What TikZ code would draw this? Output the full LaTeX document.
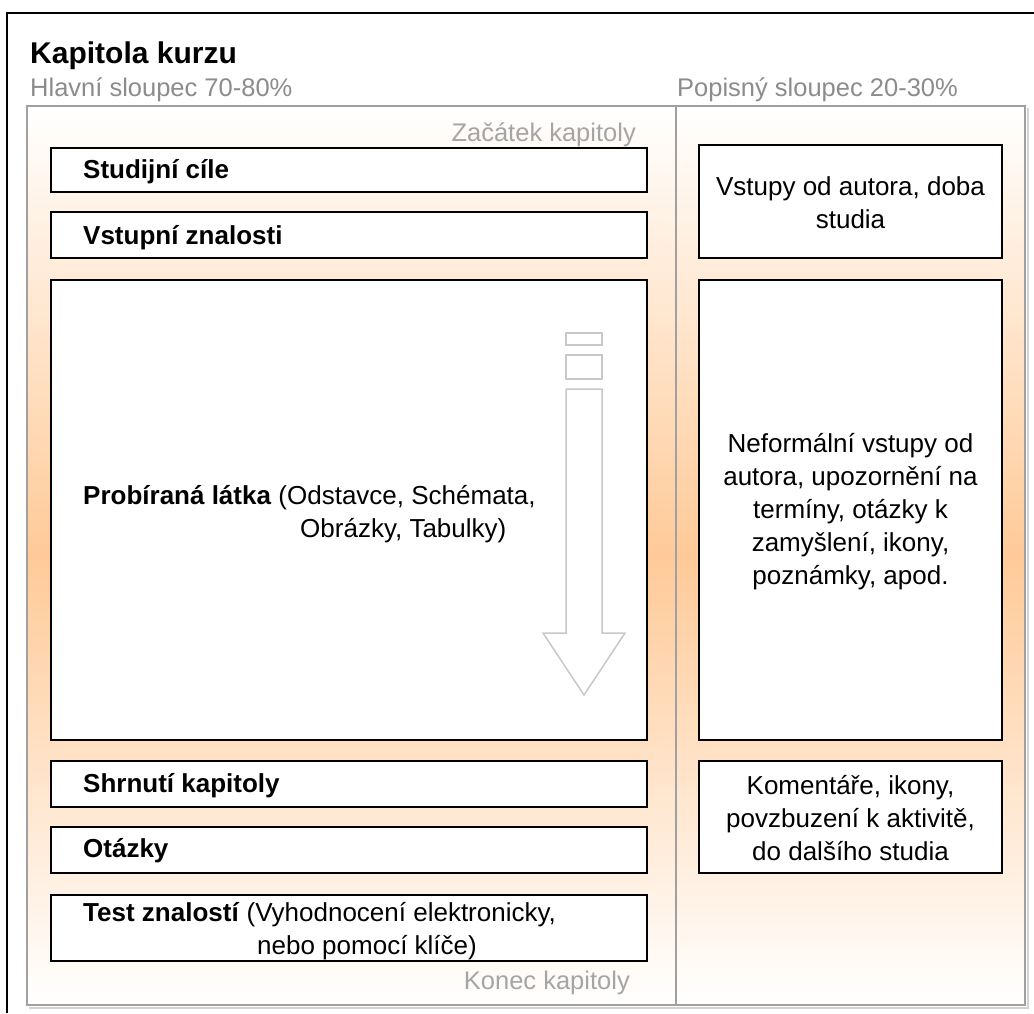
\documentclass[tikz,border=0pt]{standalone}
\usepackage{fontspec}
\setmainfont{Liberation Sans}
\definecolor{orng}{RGB}{255,202,152}
\definecolor{framegray}{RGB}{160,160,160}
\definecolor{shadowgray}{RGB}{210,210,210}
\definecolor{labelgray}{RGB}{140,140,140}
\definecolor{markgray}{RGB}{165,165,165}
\definecolor{arrowgray}{RGB}{200,200,200}
\tikzset{
  boxnode/.style={draw=black, line width=1.8pt, fill=white, inner sep=0pt, minimum width=#1},
  boxnode/.default=596pt,
  lbl/.style={font=\fontsize{25.5}{30}\selectfont, text=labelgray, inner sep=0pt, anchor=base west},
  endlbl/.style={font=\fontsize{25.5}{30}\selectfont, text=markgray, inner sep=0pt, anchor=base east},
  txt/.style={font=\fontsize{26}{33}\selectfont, inner sep=0pt, anchor=base west},
  btxt/.style={font=\fontsize{26}{33}\selectfont\bfseries, inner sep=0pt, anchor=base west},
  ctxt/.style={font=\fontsize{26}{33}\selectfont, inner sep=0pt, anchor=base},
}
\begin{document}
\begin{tikzpicture}[x=1pt,y=-1pt]
\useasboundingbox[fill=white] (0,0) rectangle (1034,1013);
% outer black frame (runs off the picture at right and bottom)
\draw[line width=2pt] (7,1013) -- (7,13) -- (1034,13);
% column frame with gradient
\shade[top color=white, bottom color=white, middle color=orng] (27,106) rectangle (1025,1005);
\draw[shadowgray, line width=2pt] (29,1007.5) -- (1027.5,1007.5) -- (1027.5,108);
\draw[framegray, line width=2pt] (27,106) rectangle (1025,1005);
\draw[framegray, line width=2pt] (676,106) -- (676,1005);
% headings
\node[font=\fontsize{30}{34}\selectfont\bfseries, inner sep=0pt, anchor=base west] (title) at (30,63) {Kapitola kurzu};
\node[lbl] (hlavni) at (30,96) {Hlavní sloupec 70-80\%};
\node[lbl] (popisny) at (677,96) {Popisný sloupec 20-30\%};
\node[endlbl] (zacatek) at (636,141) {Začátek kapitoly};
\node[endlbl] (konec) at (630,989) {Konec kapitoly};
% left column boxes
\node[boxnode, minimum height=44pt] (b1) at (349,170) {};
\node[boxnode, minimum height=46pt] (b2) at (349,235) {};
\node[boxnode, minimum height=460pt] (b3) at (349,510) {};
\node[boxnode, minimum height=46pt] (b4) at (349,784) {};
\node[boxnode, minimum height=46pt] (b5) at (349,850) {};
\node[boxnode, minimum height=66pt] (b6) at (349,928) {};
% right column boxes
\node[boxnode=303pt, minimum height=113pt] (r1) at (850.5,201.5) {};
\node[boxnode=303pt, minimum height=460pt] (r2) at (850.5,510) {};
\node[boxnode=303pt, minimum height=112pt] (r3) at (850.5,817) {};
% arrow inside the main box
\draw[arrowgray, line width=1.5pt] (566,333) rectangle (602,345);
\draw[arrowgray, line width=1.5pt] (566,355) rectangle (602,379);
\draw[arrowgray, line width=1.5pt, line join=miter] (566,389) -- (602,389) -- (602,633) -- (625,633) -- (584,695) -- (543,633) -- (566,633) -- cycle;
% left texts
\node[btxt] (t1) at (83,178) {Studijní cíle};
\node[btxt] (t2) at (83,244) {Vstupní znalosti};
\node[txt] (t3a) at (83,504) {\textbf{Probíraná látka} (Odstavce, Schémata,};
\node[txt] (t3b) at (300,537) {Obrázky, Tabulky)};
\node[btxt] (t4) at (83,792) {Shrnutí kapitoly};
\node[btxt] (t5) at (83,857) {Otázky};
\node[txt] (t6a) at (83,921) {\textbf{Test znalostí} (Vyhodnocení elektronicky,};
\node[txt] (t6b) at (257,954) {nebo pomocí klíče)};
% right texts
\node[ctxt] (s1a) at (850.5,195) {Vstupy od autora, doba};
\node[ctxt] (s1b) at (850.5,228) {studia};
\node[ctxt] (s2a) at (850.5,452) {Neformální vstupy od};
\node[ctxt] (s2b) at (850.5,485) {autora, upozornění na};
\node[ctxt] (s2c) at (850.5,518) {termíny, otázky k};
\node[ctxt] (s2d) at (850.5,551) {zamyšlení, ikony,};
\node[ctxt] (s2e) at (850.5,584) {poznámky, apod.};
\node[ctxt] (s3a) at (850.5,794) {Komentáře, ikony,};
\node[ctxt] (s3b) at (850.5,827) {povzbuzení k aktivitě,};
\node[ctxt] (s3c) at (850.5,860) {do dalšího studia};
\end{tikzpicture}
\end{document}
